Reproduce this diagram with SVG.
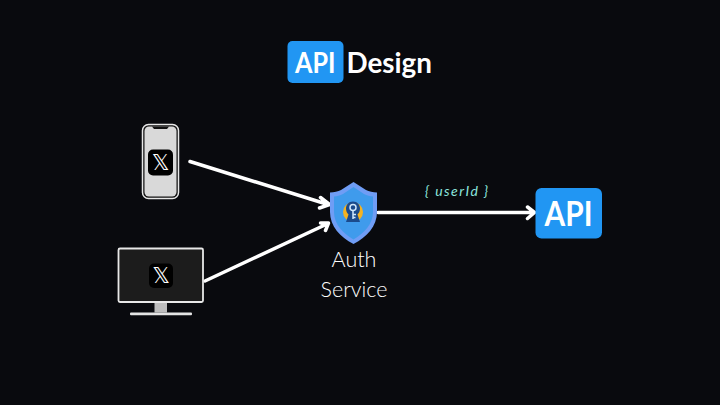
<svg xmlns="http://www.w3.org/2000/svg" width="720" height="405" viewBox="0 0 720 405">
<style>
.conn{fill:none;stroke:#fff;stroke-width:3.5;stroke-linecap:round;stroke-linejoin:round}
.blue{fill:#2196f3}
.b{font-family:"Lato","Liberation Sans",sans-serif;font-weight:700;fill:#fff}
.lbl{font-family:"Lato","Liberation Sans",sans-serif;font-weight:300;font-size:21.500px;fill:#fff;text-anchor:middle}
.xt{font-family:"DejaVu Sans",sans-serif;fill:#fff;text-anchor:middle}
</style>
<rect width="720" height="405" fill="#090a0e"/>
<g id="title">
<rect class="blue" x="287.500" y="41" width="56" height="42" rx="5"/>
<text class="b" x="295" y="72.500" font-size="29" textLength="40.500" lengthAdjust="spacingAndGlyphs">API</text>
<text class="b" x="346.500" y="72.500" font-size="29" textLength="85.500" lengthAdjust="spacingAndGlyphs">Design</text>
</g>
<g id="connectors">
<path class="conn" d="M190 161.500L328 204.500M320.500 197.500L329.500 204.500L319.500 208"/>
<path class="conn" d="M205 281L327 224M320.500 223L328.500 223L325.500 230.500"/>
<path class="conn" d="M378 212.500H533M527.500 207L534.500 212.500L527.500 218.500"/>
</g>
<g id="phone">
<rect x="142.500" y="124.500" width="36" height="74" rx="6" fill="#111" stroke="#e8e8e8" stroke-width="1.500"/>
<rect x="144.500" y="126.500" width="32" height="70" rx="4.500" fill="#d9d9d9"/>
<path d="M152 126.500H169L167 129H154Z" fill="#111"/>
<rect x="148" y="149.500" width="25" height="26" rx="5" fill="#000"/>
<text class="xt" x="160.500" y="170" font-size="22">𝕏</text>
</g>
<g id="monitor">
<rect x="118.500" y="248.500" width="84.500" height="53.500" rx="1.500" fill="#1c1c1c" stroke="#e8e8e8" stroke-width="1.800"/>
<rect x="154.500" y="303" width="12.500" height="9.500" fill="#bdbdbd"/>
<rect x="130" y="312.500" width="62" height="2.800" rx="1" fill="#e4e4e4"/>
<rect x="149" y="263.500" width="24" height="24.500" rx="5" fill="#000"/>
<text class="xt" x="161" y="283" font-size="22">𝕏</text>
</g>
<g id="auth">
<path d="M353.500 182L366 190C369 191.500 373 192.500 377 192.500V212C377 226 367 237 353.500 244C340 237 330 226 330 212V192.500C334 192.500 338 191.500 341 190Z" fill="#6f9df5"/>
<path d="M353.500 187L364 194C367 195.500 370 196.500 373 196.500V212C373 224 364 233.500 353.500 239.500C343 233.500 334 224 334 212V196.500C337 196.500 340 195.500 343 194Z" fill="#3f9bec"/>
<circle cx="353" cy="212" r="10" fill="#f5b321"/>
<path d="M353 201.500C357.500 201.500 360 205 360 208.500C360 211 359 213 357.500 214.500L360 222H346L348.500 214.500C347 213 346 211 346 208.500C346 205 348.500 201.500 353 201.500Z" fill="#1b4a8c"/>
<circle cx="353" cy="207.500" r="3" fill="none" stroke="#cfe6fb" stroke-width="1.500"/>
<path d="M353 210.500V219M353 214.500H356M353 217.500H355.500" fill="none" stroke="#cfe6fb" stroke-width="1.500"/>
<text class="lbl" x="354" y="267">Auth</text>
<text class="lbl" x="354" y="297">Service</text>
</g>
<text id="payload" x="425" y="196" font-family="Lato,sans-serif" font-style="italic" font-weight="400" font-size="14" fill="#8ce6de" textLength="63" lengthAdjust="spacing">{ userId }</text>
<g id="api">
<rect class="blue" x="535.500" y="188" width="66.500" height="50.500" rx="6"/>
<text class="b" x="544.500" y="226" font-size="35" textLength="48" lengthAdjust="spacingAndGlyphs">API</text>
</g>
</svg>
